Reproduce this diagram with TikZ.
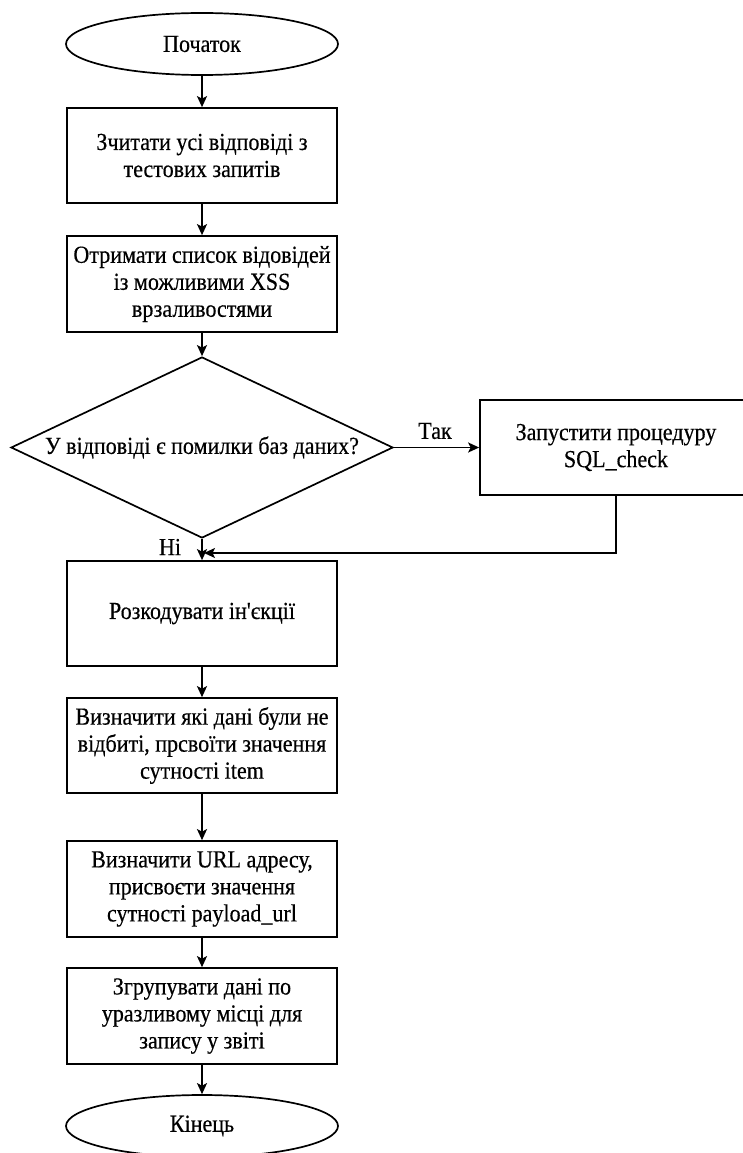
\documentclass[tikz,border=0pt]{standalone}
\usepackage{fontspec}
\setmainfont{Liberation Serif}[Ligatures=TeXOff, FakeStretch=0.9, FakeBold=0.4]
\usetikzlibrary{shapes.geometric,arrows.meta}
\begin{document}
\begin{tikzpicture}[x=1pt,y=-1pt,
  every node/.style={font=\fontsize{24.5}{27}\selectfont, align=center, inner sep=0pt},
  stepbox/.style={draw, line width=1.7pt, minimum width=270pt, minimum height=95pt},
  termbox/.style={draw, ellipse, line width=1.7pt, minimum width=272pt, minimum height=62pt},
  decbox/.style={draw, diamond, line width=1.7pt, minimum width=382pt, minimum height=181pt},
  arr/.style={line width=1.7pt, -{Stealth[length=11pt,width=10pt,inset=2.5pt]}},
  lbl/.style={font=\fontsize{24.5}{27}\selectfont}
]
\useasboundingbox (0,0) rectangle (743,1153);
\fill[white] (0,0) rectangle (743,1153);

\node[termbox] (start) at (202,44) {Початок};
\node[stepbox] (b1) at (202,155.5) {Зчитати усі відповіді з\\тестових запитів};
\node[stepbox, minimum height=96pt] (b2) at (202,284) {Отримати список відовідей\\із можливими XSS\\врзаливостями};
\node[decbox] (dia) at (202,447.5) {\makebox[0pt]{У відповіді є помилки баз даних?}};
\node[stepbox, minimum width=272pt] (side) at (616,447.5) {Запустити процедуру\\SQL\_check};
\node[stepbox, minimum height=105pt] (b3) at (202,613.5) {Розкодувати ін'єкції};
\node[stepbox] (b4) at (202,745.5) {Визначити які дані були не\\відбиті, прсвоїти значення\\сутності item};
\node[stepbox, minimum height=96pt] (b5) at (202,889) {Визначити URL адресу,\\присвоєти значення\\сутності payload\_url};
\node[stepbox, minimum height=96pt] (b6) at (202,1016) {Згрупувати дані по\\уразливому місці для\\запису у звіті};
\node[termbox] (end) at (202,1126) {Кінець};

\node[lbl] (yes) at (435,431) {Так};
\node[lbl] (no) at (170,547) {Ні};
\coordinate (ret) at (204,553);

\draw[arr] (start) -- (b1);
\draw[arr] (b1) -- (b2);
\draw[arr] (b2) -- (dia);
\draw[arr] (dia.east) -- (side.west);
\draw[arr] (dia.south) -- (b3.north);
\draw[arr] (side.south) |- (ret);
\draw[arr] (b3) -- (b4);
\draw[arr] (b4) -- (b5);
\draw[arr] (b5) -- (b6);
\draw[arr] (b6) -- (end);
\end{tikzpicture}
\end{document}
